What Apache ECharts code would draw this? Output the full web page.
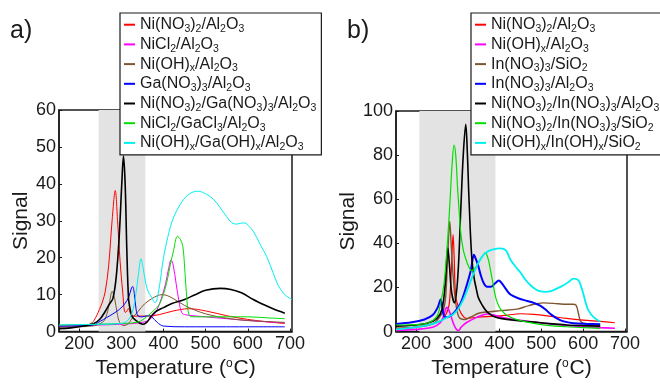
<!DOCTYPE html>
<html><head><meta charset="utf-8">
<script src="https://cdn.jsdelivr.net/npm/echarts@6/dist/echarts.min.js"></script>
<style>html,body{margin:0;padding:0;background:#fff}#c{width:660px;height:384px}</style>
</head><body><div id="c"></div>
<script>
// ---------- data ----------
const tempTicks = [200, 300, 400, 500, 600, 700];
const bandA = [246, 357];
const bandB = [208, 390];

const namesA = ['Ni(NO3)2/Al2O3', 'NiCl2/Al2O3', 'Ni(OH)x/Al2O3', 'Ga(NO3)3/Al2O3',
  'Ni(NO3)2/Ga(NO3)3/Al2O3', 'NiCl2/GaCl3/Al2O3', 'Ni(OH)x/Ga(OH)x/Al2O3'];
const namesB = ['Ni(NO3)2/Al2O3', 'Ni(OH)x/Al2O3', 'In(NO3)3/SiO2', 'In(NO3)3/Al2O3',
  'Ni(NO3)2/In(NO3)3/Al2O3', 'Ni(NO3)2/In(NO3)3/SiO2', 'Ni(OH)x/In(OH)x/SiO2'];

const aRed = [[152,1.5],[200,1.6],[225,2.0],[235,3.0],[248,6],[255,8],[262,11],[270,18],[278,30],[285.5,38.2],[291,30],[297,19],[303,11],[309,5.2],[313,5.5],[317,6.3],[322,4.8],[330,4.2],[360,4.2],[390,4.6],[420,5.5],[460,6.2],[500,5.6],[550,4.3],[600,3.3],[650,2.6],[688,2.2]];
const aMagenta = [[152,1.5],[250,1.8],[300,2],[350,2.5],[370,3.5],[385,6],[395,9],[405,13],[412,17],[418,19.4],[423,18],[430,13],[437,8],[443,5.2],[450,4.6],[500,4.0],[550,3.5],[600,3.0],[650,2.6],[688,2.4]];
const aBrown = [[152,1.2],[230,1.5],[255,2.5],[265,4.5],[272,8],[278,10.9],[284,9],[290,5],[296,2.5],[305,1.6],[315,2],[325,3.5],[340,5.5],[355,7.5],[372,8.9],[385,9.7],[397,10],[410,9.7],[425,8.8],[450,7.1],[475,5.8],[500,4.8],[540,3.8],[580,3.2],[630,2.8],[688,2.5]];
const aBlue = [[152,1.5],[230,1.7],[250,2.8],[265,3.8],[280,4.8],[295,6],[308,7.5],[318,9.5],[324,11.8],[327,12.2],[331,10],[335,6],[340,4.2],[350,4],[362,4.3],[372,4],[385,2.5],[400,1.5],[450,1.3],[550,1.3],[688,1.3]];
const aBlack = [[152,0.8],[180,1.0],[210,1.5],[235,2.2],[250,3.5],[262,5.5],[272,7.5],[280,9],[288,15],[295,26],[301,40],[305,47.5],[309,40],[313,22],[317,9],[321,6],[326,4],[335,3],[345,2.2],[352,2],[360,2.5],[370,4],[380,5.3],[400,6.5],[420,7.6],[450,8.7],[475,10],[500,11.2],[535,11.7],[560,11.4],[585,10.5],[613,8.7],[640,7.2],[660,6.2],[688,5]];
const aGreen = [[152,1.8],[250,2.0],[300,2.2],[340,2.6],[360,4],[375,5.5],[388,7],[398,9.5],[408,13.4],[416,18],[424,22],[433,25.8],[440,25],[446,23],[451,16],[456,8],[460,4.8],[466,4],[500,4.0],[550,4],[600,4],[650,3.7],[688,3.5]];
const aCyan = [[152,1.8],[250,2],[300,2.2],[315,3],[325,5],[333,9],[340,15],[346.6,19.7],[352,17],[358,13],[365,10.5],[372,9.3],[380,7.8],[387,10],[395,16],[400,20],[410,25.5],[423,30.7],[440,34.5],[455,36.7],[470,37.8],[483,38],[500,37.3],[518,35.9],[535,33.5],[550,31.1],[562,29.5],[574,29.1],[585,29.4],[593,29.4],[603,28.5],[613,27.2],[630,23.5],[645,20.3],[660,16],[672,12.6],[688,10],[705,8.7]];

const bRed = [[152,1.5],[200,2.2],[240,3.5],[260,5],[272,8],[279,12],[283,22],[286,35],[288.6,44],[291,35],[295,16],[303,10.3],[311,7.4],[320,6],[347,6.5],[370,6.8],[394,7],[420,7.5],[450,8.1],[482,7.8],[520,7],[560,6],[600,5.2],[641,4.6],[676,4]];
const bMagenta = [[152,0.5],[200,1],[240,2],[258,4],[266,7],[273.6,11],[278,10],[283,7.4],[287,5],[291,3],[296,1.2],[301.5,0.5],[308,2],[320,4],[340,6],[360,7.5],[371,8],[390,7.3],[410,6.3],[440,5.3],[480,4.3],[520,3.5],[560,2.8],[600,2.2],[640,1.8],[676,1.5]];
const bBrown = [[152,1.5],[200,2],[240,3.5],[258,7],[266,10],[271,16],[276,35],[280.7,49.9],[284,40],[287,30],[291,20],[295,13],[303,6.5],[315,5.5],[330,6.5],[350,8.3],[375,9],[402,9.5],[442,10.2],[470,11.8],[505,13],[540,12.6],[561,12.4],[575,12.4],[583,12],[589,8],[593,5],[600,3.8],[640,3]];
const bBlue = [[152,3.5],[190,4.2],[220,5.5],[240,7.5],[252,11],[259,14.6],[263,11],[267,7],[275,6.5],[285,7.5],[297,10],[307,13],[318,19],[331,27.6],[338.6,34.8],[343,33],[348,30.4],[355,25.5],[362.5,21.8],[370,20.3],[378.5,20.3],[390,22],[398,23.2],[405,22],[414,19.6],[426,16.8],[446,15],[466,13.9],[482,13],[498,11.7],[510,10],[521,8.1],[545,5.2],[577,3.8],[610,3.5],[641,3.3]];
const bBlack = [[152,2.5],[200,3],[230,4],[250,6],[262,10],[270,22],[276,38],[280,30],[285,18],[292,13],[300,25],[307,55],[313,80],[319,94],[323,80],[327,59],[335,30],[348,16],[360,11.5],[370.6,8.8],[385,7],[402,6],[440,5],[482,4.3],[520,3.6],[561,3],[600,2.7],[641,2.5]];
const bGreen = [[152,3],[200,3.2],[230,4],[250,7],[259,13],[267,21.8],[275,40],[281.6,60],[286,75],[291,84.5],[295,80],[299,66.5],[303,55],[307,45],[313,37],[319,33],[326,29.5],[333,27.5],[340,28.5],[347,30.4],[355,33],[362,35],[366.5,35.8],[370,34.5],[374,31.9],[382,24],[390,16],[396,12.5],[402,10.3],[418,7.3],[450,5],[500,3.2],[560,2.2],[600,1.8],[641,1.5]];
const bCyan = [[152,1],[200,2],[240,3.5],[265,5.5],[280,7],[290,8],[300,10],[312,14],[323,19],[335,25],[347,30.4],[358,34],[370.6,36.2],[385,37.3],[402,37.7],[415,36.8],[426,32.6],[438,29.5],[450,26.8],[462,23.5],[474,21],[486,19.2],[498,18.2],[510,18],[521,18.2],[537,19.5],[553,21],[565,22.5],[577,24],[589,23.2],[595,20.5],[601,16.8],[607,12.5],[613,9.5],[625,6.6],[641,4.5]];

// ---------- styling ----------
const colors = ['#ff0000', '#ff00ff', '#7f5530', '#0000ff', '#000000', '#00e000', '#00f0f0'];
const dataA = [aRed, aMagenta, aBrown, aBlue, aBlack, aGreen, aCyan];
const dataB = [bRed, bMagenta, bBrown, bBlue, bBlack, bGreen, bCyan];
const widthA = [1, 1, 1, 1, 1.6, 1, 1];
const widthB = [1.2, 1.6, 1.4, 2, 1.6, 1.2, 1.8];

function toRich(name) {
  return name.replace(/(\d|(?<=\))x)/g, '{s|$1}');
}
const FONT = 'Liberation Sans, Arial, sans-serif';
const INK = '#1a1a1a';

function mkSeries(names, data, widths, gi, band) {
  return names.map((n, i) => {
    const s = {
      id: 'p' + gi + '_' + i,
      name: n, type: 'line', xAxisIndex: gi, yAxisIndex: gi,
      data: data[i], showSymbol: false, smooth: 0.35,
      lineStyle: { color: colors[i], width: widths[i] },
      itemStyle: { color: colors[i] }, z: 2 + i
    };
    if (i === 0) {
      s.markArea = { silent: true, z: 1, itemStyle: { color: '#e3e3e3' },
        data: [[{ xAxis: band[0] }, { xAxis: band[1] }]] };
    }
    return s;
  });
}

function mkX(gi) {
  return {
    type: 'value', gridIndex: gi, min: 152, max: 705,
    name: 'Temperature ({sup|o}C)', nameLocation: 'middle', nameGap: 23,
    nameTextStyle: { fontSize: 21, color: INK, fontFamily: FONT,
      rich: { sup: { fontSize: 12, color: INK, fontFamily: FONT, padding: [0, 1, 10, 0] } } },
    axisLine: { show: true, onZero: false, lineStyle: { color: INK, width: 1.5 } },
    axisTick: { show: true, inside: true, length: 3, customValues: tempTicks, lineStyle: { color: INK } },
    axisLabel: { customValues: tempTicks, fontSize: 18, color: INK, fontFamily: FONT, margin: 3 },
    splitLine: { show: false }
  };
}
function mkY(gi, max, interval, gap) {
  return {
    type: 'value', gridIndex: gi, min: 0, max: max, interval: interval,
    name: 'Signal', nameLocation: 'middle', nameGap: gap,
    nameTextStyle: { fontSize: 21, color: INK, fontFamily: FONT },
    axisLine: { show: true, lineStyle: { color: INK, width: 1.5 } },
    axisTick: { show: true, inside: true, length: 3, lineStyle: { color: INK } },
    axisLabel: { fontSize: 18, color: INK, fontFamily: FONT, margin: 3 },
    splitLine: { show: false }
  };
}
function mkLegend(names, left) {
  return {
    data: names.map((n, i) => ({ name: n, itemStyle: { color: colors[i] } })),
    orient: 'vertical', left: left, top: 13,
    icon: 'rect', itemWidth: 11, itemHeight: 2, itemGap: 0,
    backgroundColor: '#fff', borderColor: INK, borderWidth: 1.2,
    padding: [2, 5, 2, 4], selectedMode: false,
    formatter: n => toRich(n),
    textStyle: { fontSize: 16, lineHeight: 19.4, color: INK, fontFamily: FONT,
      rich: { s: { fontSize: 10.5, color: INK, fontFamily: FONT, padding: [9, 0, 0, 0] } } }
  };
}

const chart = echarts.init(document.getElementById('c'), null, { renderer: 'canvas' });
chart.setOption({
  animation: false,
  backgroundColor: '#fff',
  grid: [
    { left: 59, top: 110, width: 233, height: 232, show: true, borderColor: INK, borderWidth: 1.5 },
    { left: 396, top: 111, width: 231, height: 231, show: true, borderColor: INK, borderWidth: 1.5 }
  ],
  xAxis: [mkX(0), mkX(1)],
  yAxis: [mkY(0, 60, 10, 27), mkY(1, 100, 20, 24)],
  legend: [mkLegend(namesA, 120), mkLegend(namesB, 471)],
  graphic: [
    { type: 'text', x: 10, y: 31, style: { text: 'a)', font: '25px ' + FONT, fill: INK, verticalAlign: 'middle' } },
    { type: 'text', x: 347, y: 31, style: { text: 'b)', font: '25px ' + FONT, fill: INK, verticalAlign: 'middle' } }
  ],
  series: mkSeries(namesA, dataA, widthA, 0, bandA).concat(mkSeries(namesB, dataB, widthB, 1, bandB))
});
</script>
</body></html>
